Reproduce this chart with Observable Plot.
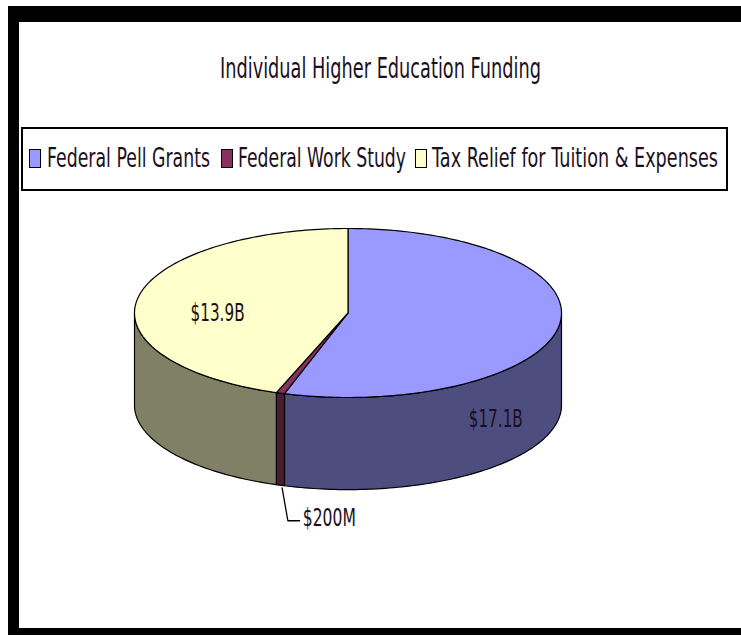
<!DOCTYPE html>
<html><head><meta charset="utf-8">
<script src="https://cdn.jsdelivr.net/npm/d3@7"></script>
<script src="https://cdn.jsdelivr.net/npm/@observablehq/plot@0.6"></script>
<style>
html,body{margin:0;padding:0;background:#fff;width:741px;height:636px;overflow:hidden}
#frame{position:absolute;left:8px;top:6px;width:733px;height:629px;box-sizing:border-box;border-style:solid;border-color:#000;border-width:16px 0 7px 11px}
#chart{position:absolute;left:0;top:0}
.fit{position:absolute;font-family:"DejaVu Sans",sans-serif;color:#1c1020;white-space:nowrap;transform-origin:0 50%;line-height:30px;height:30px}
#title{font-size:29px;left:220px;top:53px}
#legend{position:absolute;left:21px;top:127px;width:707px;height:64px;box-sizing:border-box;border:2px solid #000;background:#fff}
.sw{position:absolute;width:12px;height:19px;box-sizing:border-box;border:1.5px solid #000;top:149px}
.lg{font-size:27px;top:143px}
</style></head>
<body>
<div id="frame"></div>
<div id="chart"></div>
<div id="legend"></div>
<span id="title" class="fit"></span>
<script>
const chartTitle = "Individual Higher Education Funding";
const categories = ["Federal Pell Grants", "Federal Work Study", "Tax Relief for Tuition & Expenses"];
const values = [17.1, 0.2, 13.9];
const valueLabels = ["$17.1B", "$200M", "$13.9B"];
const topColors = ["#9999ff", "#8a3060", "#ffffcc"];
const sideColors = ["#4d4d80", "#4d1a33", "#808066"];

// legend layout in page pixels: swatch left, text left, text width
const legendSwatchLeft = [29, 221, 415];
const legendTextLeft = [47, 238, 432];
const legendTextWidth = [163, 168, 286];

function fit(el, w) {
  const m = el.getBoundingClientRect().width;
  el.style.transform = `scaleX(${w / m})`;
}
const titleEl = document.getElementById("title");
titleEl.textContent = chartTitle;
fit(titleEl, 321);
categories.forEach((c, i) => {
  const sw = document.createElement("span");
  sw.className = "sw";
  sw.style.left = legendSwatchLeft[i] + "px";
  sw.style.background = topColors[i];
  const t = document.createElement("span");
  t.className = "fit lg";
  t.style.left = legendTextLeft[i] + "px";
  t.textContent = c;
  document.body.append(sw, t);
  fit(t, legendTextWidth[i]);
});

// Pie geometry: angles clockwise from 12 o'clock, on a unit ellipse; y up
const depth = 1.09;
const total = d3.sum(values);
const ends = Array.from(d3.cumsum(values), v => v / total * 2 * Math.PI);
const slices = categories.map((c, i) => ({i, a0: i ? ends[i - 1] : 0, a1: ends[i]}));
const px = a => Math.sin(a), py = a => Math.cos(a);
const arc = (a0, a1) => {
  const n = Math.max(2, Math.ceil((a1 - a0) / 0.02));
  return d3.range(n + 1).map(k => a0 + (a1 - a0) * k / n);
};
const topFaces = slices.flatMap(s => [
  {z: "t" + s.i, x: 0, y: 0, c: topColors[s.i]},
  ...arc(s.a0, s.a1).map(a => ({z: "t" + s.i, x: px(a), y: py(a), c: topColors[s.i]}))
]);
const front0 = Math.PI / 2, front1 = 3 * Math.PI / 2;
const walls = slices.flatMap(s => {
  const a0 = Math.max(s.a0, front0), a1 = Math.min(s.a1, front1);
  if (a1 <= a0) return [];
  const as = arc(a0, a1);
  return [
    ...as.map(a => ({z: "w" + s.i, x: px(a), y: py(a), c: sideColors[s.i]})),
    ...as.slice().reverse().map(a => ({z: "w" + s.i, x: px(a), y: py(a) - depth, c: sideColors[s.i]}))
  ];
});
const mid = slices.map(s => (s.a0 + s.a1) / 2);
const labels = [
  {t: valueLabels[0], x: 0.70 * px(mid[0]), y: py(mid[0]) * 0.7 - depth * 1.2 + 0.16},
  {t: valueLabels[2], x: 0.62 * px(mid[2]), y: 0.62 * py(mid[2]) - 0.1}
];
const wx = px(mid[1]), wy = py(mid[1]) - depth;
const leader = [
  {x: wx + 0.008, y: wy - 0.03},
  {x: wx + 0.035, y: wy - 0.42},
  {x: wx + 0.09, y: wy - 0.42}
];
const smallLabel = [{t: valueLabels[1], x: wx + 0.105, y: wy - 0.39}];

const common = {x: "x", y: "y", z: "z", fill: "c", stroke: "#000", strokeWidth: 1.2, curve: "linear-closed"};
const font = "DejaVu Sans, sans-serif";
const plot = Plot.plot({
  width: 741, height: 636, margin: 0, style: {background: "transparent"},
  x: {domain: [-1, 1], range: [134, 561], axis: null},
  y: {domain: [1, -1], range: [228, 397], axis: null},
  marks: [
    Plot.line(walls, common),
    Plot.line(topFaces, common),
    Plot.line(leader, {x: "x", y: "y", stroke: "#000", strokeWidth: 1.3}),
    Plot.text(labels, {x: "x", y: "y", text: "t", fontSize: 25, fill: "#1c1020", fontFamily: font}),
    Plot.text(smallLabel, {x: "x", y: "y", text: "t", textAnchor: "start", fontSize: 25, fill: "#1c1020", fontFamily: font})
  ]
});
document.getElementById("chart").append(plot);
// condense the value labels to the narrow face of the reference
plot.querySelectorAll("text").forEach(t => {
  t.setAttribute("textLength", t.textContent === valueLabels[1] ? 53 : 54);
  t.setAttribute("lengthAdjust", "spacingAndGlyphs");
});
</script>
</body></html>
